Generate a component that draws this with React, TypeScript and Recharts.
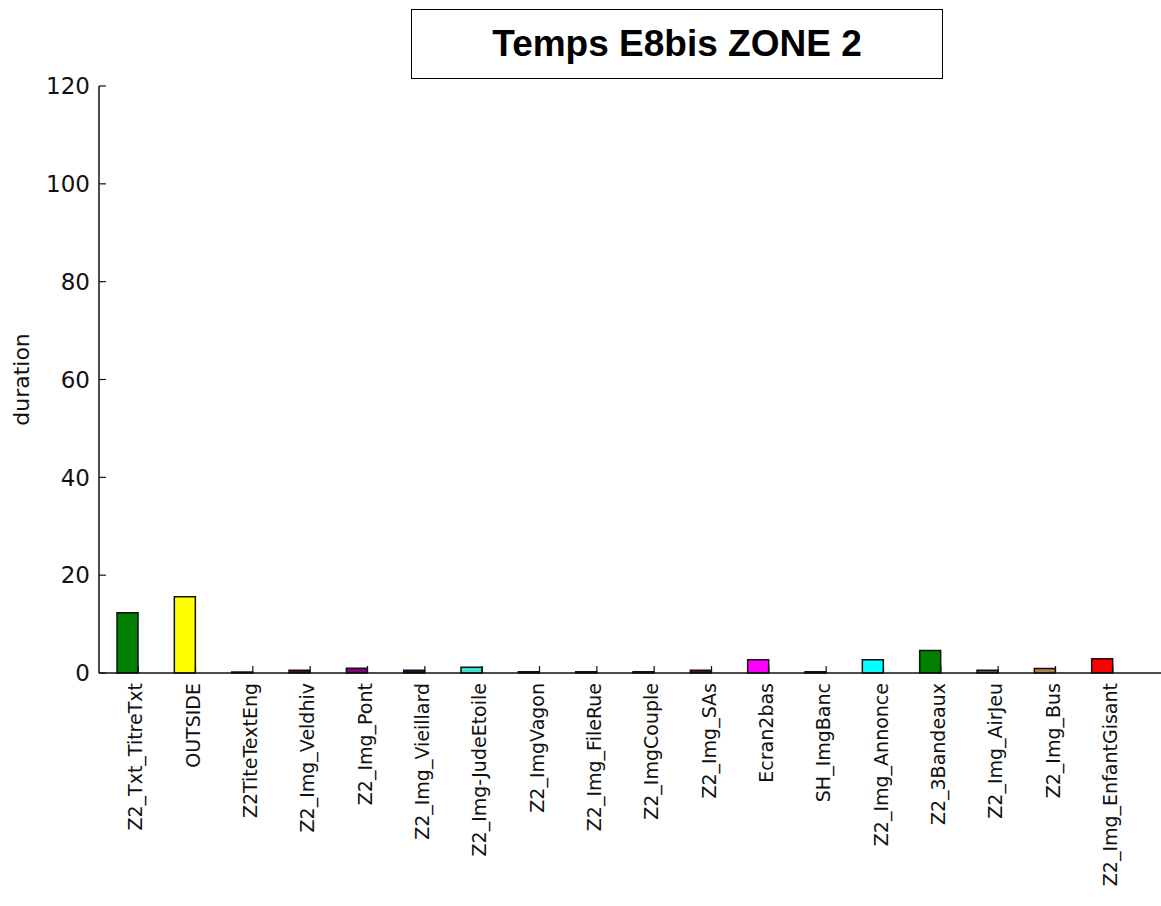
import { BarChart, Bar, XAxis, YAxis, Cell } from 'recharts'

const CATEGORIES = [
  'Z2_Txt_TitreTxt',
  'OUTSIDE',
  'Z2TiteTextEng',
  'Z2_Img_Veldhiv',
  'Z2_Img_Pont',
  'Z2_Img_Vieillard',
  'Z2_Img-JudeEtoile',
  'Z2_ImgVagon',
  'Z2_Img_FileRue',
  'Z2_ImgCouple',
  'Z2_Img_SAs',
  'Ecran2bas',
  'SH_ImgBanc',
  'Z2_Img_Annonce',
  'Z2_3Bandeaux',
  'Z2_Img_AirJeu',
  'Z2_Img_Bus',
  'Z2_Img_EnfantGisant',
]

const DURATIONS = [12.3, 15.6, 0.2, 0.55, 0.95, 0.55, 1.2, 0.25, 0.25, 0.25, 0.55, 2.7, 0.25, 2.7, 4.6, 0.55, 0.9, 2.9]

const BAR_COLORS = [
  '#007f00', '#ffff00', '#151515', '#4b1020', '#800080', '#1a1040',
  '#40e0d0', '#101010', '#101010', '#101010', '#5a1010', '#ff00ff',
  '#101010', '#00ffff', '#007f00', '#4a5a3a', '#b08050', '#ff0000',
]

const Y_TICKS = [0, 20, 40, 60, 80, 100, 120]

const TITLE = 'Temps E8bis ZONE 2'

const data = CATEGORIES.map((name, i) => ({ name, duration: DURATIONS[i] }))

const BAR_W = 21
const INK = '#111'

function BottomTick(props: any) {
  const { x, y, payload } = props
  const tx = x + BAR_W / 2
  return (
    <g>
      <line x1={tx} y1={y} x2={tx} y2={y - 7} stroke={INK} strokeWidth={1.2} />
      <text
        x={0}
        y={0}
        transform={`translate(${x + 8}, ${y + 10}) rotate(-90)`}
        textAnchor="end"
        dy="0.35em"
        fontSize={19}
        fontFamily="DejaVu Sans"
        fill={INK}
      >
        {payload.value}
      </text>
    </g>
  )
}

function TopTick(props: any) {
  const { x, y } = props
  const tx = x + BAR_W / 2
  return <line x1={tx} y1={y} x2={tx} y2={y + 7} stroke={INK} strokeWidth={1.2} />
}

function LeftTick(props: any) {
  const { x, y, payload } = props
  return (
    <g>
      <line x1={x} y1={y} x2={x + 7} y2={y} stroke={INK} strokeWidth={1.2} />
      <text
        x={x - 9}
        y={y}
        dy="0.36em"
        textAnchor="end"
        fontSize={23}
        fontFamily="DejaVu Sans"
        fill={INK}
      >
        {payload.value}
      </text>
    </g>
  )
}

function RightTick(props: any) {
  const { x, y } = props
  return <line x1={x} y1={y} x2={x - 7} y2={y} stroke={INK} strokeWidth={1.2} />
}

function YLabel(props: any) {
  const { viewBox } = props
  const cy = viewBox.y + viewBox.height / 2
  return (
    <text
      x={0}
      y={0}
      transform={`translate(21, ${cy}) rotate(-90)`}
      textAnchor="middle"
      dy="0.35em"
      fontSize={22}
      fontFamily="DejaVu Sans"
      fill={INK}
    >
      duration
    </text>
  )
}

export default function App() {
  return (
    <div
      style={{
        position: 'absolute',
        left: 0,
        top: 0,
        width: 1161,
        height: 906,
        overflow: 'hidden',
        background: '#fff',
      }}
    >
      <BarChart
        width={1170}
        height={906}
        data={data}
        margin={{ top: 86, right: 7, left: 0, bottom: 0 }}
      >
        <XAxis
          dataKey="name"
          interval={0}
          height={233}
          padding={{ left: 0, right: 32 }}
          axisLine={{ stroke: INK, strokeWidth: 1.5 }}
          tickLine={false}
          tickSize={0}
          tickMargin={0}
          tick={BottomTick}
        />
        <XAxis
          xAxisId="top"
          dataKey="name"
          orientation="top"
          interval={0}
          height={0}
          padding={{ left: 0, right: 32 }}
          axisLine={{ stroke: INK, strokeWidth: 1.5 }}
          tickLine={false}
          tickSize={0}
          tickMargin={0}
          tick={TopTick}
        />
        <YAxis
          domain={[0, 120]}
          ticks={Y_TICKS}
          width={99}
          axisLine={{ stroke: INK, strokeWidth: 1.5 }}
          tickLine={false}
          tickSize={0}
          tickMargin={0}
          tick={LeftTick}
          label={<YLabel />}
        />
        <YAxis
          yAxisId="right"
          orientation="right"
          domain={[0, 120]}
          ticks={Y_TICKS}
          width={0}
          axisLine={{ stroke: INK, strokeWidth: 1.5 }}
          tickLine={false}
          tickSize={0}
          tickMargin={0}
          tick={RightTick}
        />
        <Bar dataKey="duration" barSize={BAR_W} stroke={INK} strokeWidth={1.5} isAnimationActive={false}>
          {data.map((d, i) => (
            <Cell key={d.name} fill={BAR_COLORS[i]} />
          ))}
        </Bar>
      </BarChart>
      <div
        style={{
          position: 'absolute',
          left: 411,
          top: 9,
          width: 532,
          height: 70,
          boxSizing: 'border-box',
          border: '1.5px solid #000',
          background: '#fff',
          display: 'flex',
          alignItems: 'center',
          justifyContent: 'center',
          fontFamily: '"Liberation Sans", Arial, sans-serif',
          fontWeight: 'bold',
          fontSize: 37,
          color: '#000',
        }}
      >
        {TITLE}
      </div>
    </div>
  )
}
